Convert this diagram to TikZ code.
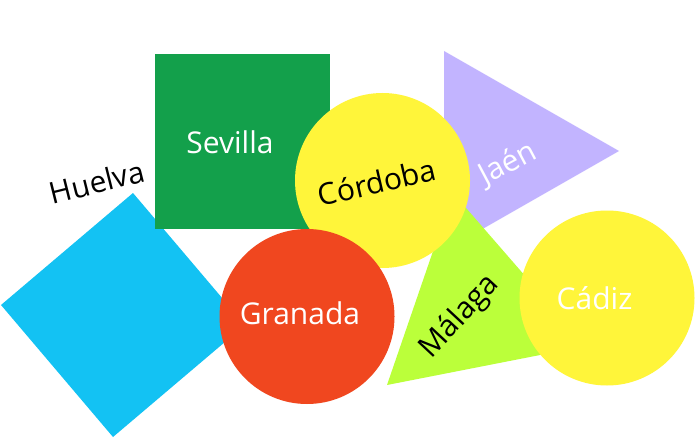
\documentclass[tikz,border=0pt]{standalone}
\usepackage{fontspec}
\setmainfont{Open Sans}
\definecolor{huelvablue}{RGB}{19, 194, 243}
\definecolor{sevillagreen}{RGB}{19, 160, 75}
\definecolor{cordobayellow}{RGB}{255, 245, 58}
\definecolor{jaenviolet}{RGB}{194, 180, 255}
\definecolor{granadared}{RGB}{240, 71, 31}
\definecolor{malagalime}{RGB}{187, 255, 58}
\usetikzlibrary{positioning}

\tikzset{
  city/.style={font=\fontsize{30}{34}\selectfont, inner sep=0pt},
  disc/.style={circle, inner sep=0pt, minimum size=175pt}
}

\begin{document}
\begin{tikzpicture}[x=1pt, y=-1pt]
  % Canvas
  \path[fill=white, use as bounding box] (0,0) rectangle (695,441);

  % Huelva
  \fill[huelvablue] (133,193) coordinate (huelvaN) -- (245,325) coordinate (huelvaE)
    -- (113,437) coordinate (huelvaS) -- (1,305) coordinate (huelvaW) -- cycle;
  \node[city, rotate=14] (huelva) at (97,182) {Huelva};

  % Sevilla
  \node[fill=sevillagreen, minimum size=175pt, inner sep=0pt] (sevillasq) at (242.5,141.5) {};
  \node[city, text=white] (sevilla) at (230,142) {Sevilla};

  % Jaen
  \fill[jaenviolet] (444,51) coordinate (jaenN) -- (619,151) coordinate (jaenE)
    -- (444,251) coordinate (jaenS) -- cycle;
  \node[city, text=white, rotate=28] (jaen) at (508,164) {Jaén};

  % Malaga
  \fill[malagalime] (387,385) coordinate (malagaW) -- (453,193) coordinate (malagaN)
    -- (586,346) coordinate (malagaE) -- cycle;

  % Cordoba
  \node[disc, fill=cordobayellow] (cordobadisc) at (382.5,180.5) {};
  \node[city, rotate=13] (cordoba) at (377,182) {Córdoba};

  % Malaga label
  \node[city, rotate=47] (malaga) at (460,317) {Málaga};

  % Granada
  \node[disc, fill=granadared] (granadadisc) at (307,316.5) {};
  \node[city, text=white] (granada) at (300,313) {Granada};

  % Cadiz
  \node[disc, fill=cordobayellow] (cadizdisc) at (607,298) {};
  \node[city, text=white] (cadiz) at (594.5,298) {Cádiz};
\end{tikzpicture}
\end{document}
